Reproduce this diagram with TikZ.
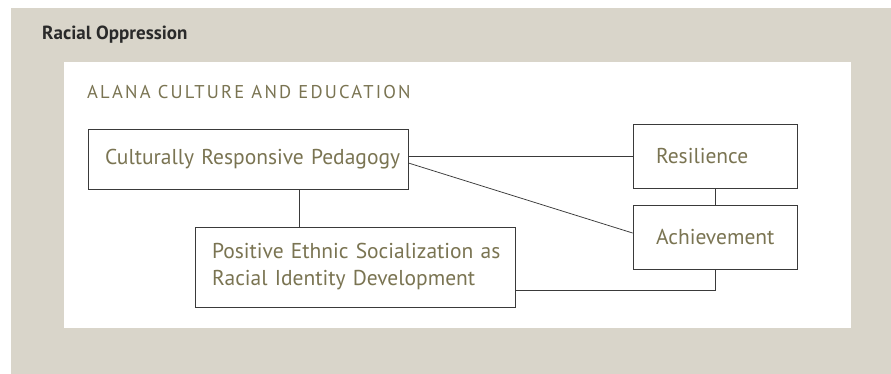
\documentclass[tikz,border=0pt]{standalone}
\usepackage{fontspec}
\setmainfont{PT Sans}
\usetikzlibrary{positioning}
\definecolor{bggray}{HTML}{D9D5CA}
\definecolor{olive}{HTML}{7A7452}
\definecolor{linegray}{HTML}{3A3A3A}
\definecolor{darktext}{HTML}{2A2A2A}
\tikzset{
  boxnode/.style={draw=linegray, line width=0.8pt, rectangle, align=left, text=olive,
    font=\fontsize{21.5}{27}\selectfont, inner ysep=0pt, inner xsep=0pt},
  conn/.style={draw=linegray, line width=0.75pt}
}
\newcommand{\padA}{\hspace*{17pt}}
\newcommand{\padB}{\hspace*{23pt}}
\begin{document}
\begin{tikzpicture}[x=1pt,y=-1pt]
\useasboundingbox (0,0) rectangle (891,374);
\fill[bggray] (11,8) rectangle (891,374);
\fill[white] (64,62) rectangle (851,328);
\node[anchor=west, text=darktext, font=\fontsize{19}{22}\selectfont\bfseries, inner sep=0pt] (ro) at (42,35) {Racial Oppression};
\node[anchor=west, text=olive, font=\fontsize{18.5}{20}\selectfont\addfontfeature{LetterSpace=12}, inner sep=0pt] (alana) at (87,92) {ALANA CULTURE AND EDUCATION};
\node[boxnode, text width=320pt, minimum height=60pt] (crp) at (248,159) {\padA Culturally Responsive Pedagogy};
\node[boxnode, text width=164pt, minimum height=64pt] (res) at (715,156) {\padB Resilience};
\node[boxnode, text width=164pt, minimum height=64pt] (ach) at (715,237) {\padB Achievement};
\node[boxnode, text width=320pt, minimum height=80pt] (pes) at (355,267) {\padA Positive Ethnic Socialization as\\\padA Racial Identity Development};
\draw[conn] (crp.east |- res.west) -- (res.west);
\draw[conn] ([yshift=-4pt]crp.east) -- ([yshift=4pt]ach.west);
\draw[conn] ([xshift=51pt]crp.south) -- ([xshift=51pt]crp.south |- pes.north);
\draw[conn] (res.south) -- (ach.north);
\draw[conn] ([yshift=-23pt]pes.east) -| (ach.south);
\end{tikzpicture}
\end{document}
